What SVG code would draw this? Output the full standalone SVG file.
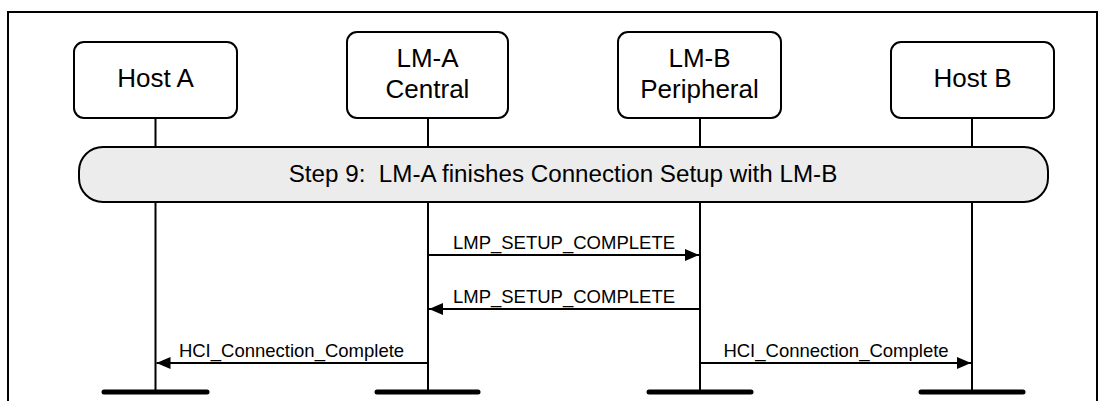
<svg xmlns="http://www.w3.org/2000/svg" width="1109" height="401" viewBox="0 0 1109 401">
  <defs>
    <style>
      .frame { fill: none; stroke: #000; stroke-width: 2; }
      .box { fill: #fff; stroke: #000; stroke-width: 2; }
      .step { fill: #ececec; stroke: #000; stroke-width: 2; }
      .life { stroke: #000; stroke-width: 2; }
      .bar { stroke: #000; stroke-width: 5; stroke-linecap: round; }
      .msg { stroke: #000; stroke-width: 2; fill: none; }
      .t { font-family: "Liberation Sans", Arial, sans-serif; fill: #000; text-anchor: middle; }
      .big { font-size: 26px; }
      .stept { font-size: 24.2px; }
      .lbl { font-size: 18.5px; }
    </style>
    <marker id="ah" markerUnits="userSpaceOnUse" markerWidth="14" markerHeight="12" refX="14" refY="6" orient="auto">
      <path d="M0,0 L14,6 L0,12 Z" fill="#000"/>
    </marker>
  </defs>
  <rect width="1109" height="401" fill="#fff"/>
  <rect class="frame" x="8" y="12" width="1089" height="400"/>

  <g id="lifelines">
    <line class="life" x1="155.5" y1="118" x2="155.5" y2="392"/>
    <line class="life" x1="428" y1="118" x2="428" y2="392"/>
    <line class="life" x1="700" y1="118" x2="700" y2="392"/>
    <line class="life" x1="972" y1="118" x2="972" y2="392"/>
    <line class="bar" x1="104" y1="392" x2="207" y2="392"/>
    <line class="bar" x1="377" y1="392" x2="478" y2="392"/>
    <line class="bar" x1="649" y1="392" x2="751" y2="392"/>
    <line class="bar" x1="921" y1="392" x2="1023" y2="392"/>
  </g>

  <g id="hostA">
    <rect class="box" x="74" y="42" width="163" height="76" rx="10"/>
    <text class="t big" x="155.5" y="87">Host A</text>
  </g>
  <g id="lmA">
    <rect class="box" x="347" y="32" width="161" height="86" rx="10"/>
    <text class="t big" x="427.5" y="67">LM-A</text>
    <text class="t big" x="427.5" y="98">Central</text>
  </g>
  <g id="lmB">
    <rect class="box" x="618" y="32" width="163" height="86" rx="10"/>
    <text class="t big" x="699.5" y="67">LM-B</text>
    <text class="t big" x="699.5" y="98">Peripheral</text>
  </g>
  <g id="hostB">
    <rect class="box" x="891" y="42" width="163" height="76" rx="10"/>
    <text class="t big" x="972.5" y="87">Host B</text>
  </g>

  <g id="step9">
    <rect class="step" x="79" y="147" width="969" height="55" rx="24"/>
    <text class="t stept" x="563" y="182" xml:space="preserve">Step 9:  LM-A finishes Connection Setup with LM-B</text>
  </g>

  <g id="connectors">
    <line class="msg" x1="428" y1="255" x2="699" y2="255" marker-end="url(#ah)"/>
    <text class="t lbl" x="564" y="249">LMP_SETUP_COMPLETE</text>
    <line class="msg" x1="700" y1="309" x2="429" y2="309" marker-end="url(#ah)"/>
    <text class="t lbl" x="564" y="303">LMP_SETUP_COMPLETE</text>
    <line class="msg" x1="428" y1="363" x2="156.5" y2="363" marker-end="url(#ah)"/>
    <text class="t lbl" x="291.5" y="357">HCI_Connection_Complete</text>
    <line class="msg" x1="700" y1="363" x2="971" y2="363" marker-end="url(#ah)"/>
    <text class="t lbl" x="836" y="357">HCI_Connection_Complete</text>
  </g>
</svg>
